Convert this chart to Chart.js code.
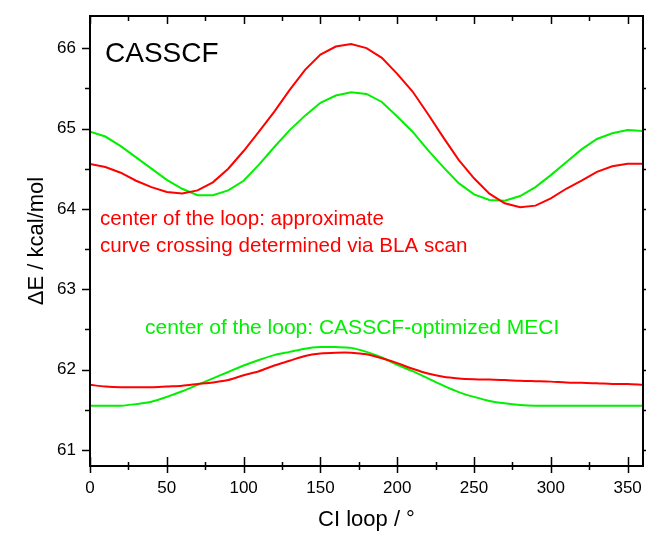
<!DOCTYPE html>
<html>
<head>
    <title>CASSCF CI loop</title>
    <script src="https://cdn.jsdelivr.net/npm/chart.js"></script>
    <style>
        body { margin: 0; background: #fff; }
        #wrap { width: 646px; height: 536px; }
    </style>
</head>
<body>
    <div id="wrap"><canvas id="loopChart"></canvas></div>

    <script>
        // CI loop angle (deg)
        const angles = [0, 10, 20, 30, 40, 50, 60, 70, 80, 90, 100, 110, 120, 130, 140, 150, 160, 170, 180,
                        190, 200, 210, 220, 230, 240, 250, 260, 270, 280, 290, 300, 310, 320, 330, 340, 350, 360];

        // center of the loop: approximate crossing via BLA scan (red)
        const redUpper = [64.56, 64.52, 64.45, 64.35, 64.27, 64.21, 64.19, 64.23, 64.33, 64.50, 64.72, 64.96, 65.21,
                          65.48, 65.73, 65.92, 66.02, 66.05, 66.00, 65.88, 65.68, 65.46, 65.18, 64.89, 64.61, 64.38,
                          64.19, 64.07, 64.02, 64.04, 64.13, 64.25, 64.35, 64.46, 64.53, 64.56, 64.56];
        const redLower = [61.81, 61.79, 61.78, 61.78, 61.78, 61.79, 61.80, 61.82, 61.84, 61.87, 61.93, 61.98, 62.05,
                          62.11, 62.17, 62.20, 62.21, 62.21, 62.19, 62.14, 62.08, 62.01, 61.95, 61.91, 61.89, 61.88,
                          61.875, 61.87, 61.86, 61.855, 61.85, 61.84, 61.835, 61.83, 61.82, 61.82, 61.81];

        // center of the loop: CASSCF-optimized MECI (green)
        const greenUpper = [64.96, 64.90, 64.78, 64.64, 64.50, 64.36, 64.25, 64.17, 64.17, 64.23, 64.35, 64.55, 64.77,
                            64.98, 65.16, 65.32, 65.41, 65.45, 65.43, 65.33, 65.15, 64.96, 64.73, 64.52, 64.32, 64.18,
                            64.11, 64.10, 64.16, 64.27, 64.42, 64.58, 64.74, 64.87, 64.94, 64.98, 64.97];
        const greenLower = [61.55, 61.55, 61.55, 61.57, 61.60, 61.66, 61.73, 61.81, 61.89, 61.97, 62.05, 62.12, 62.18,
                            62.22, 62.26, 62.28, 62.28, 62.27, 62.22, 62.15, 62.06, 61.98, 61.89, 61.80, 61.72, 61.66,
                            61.61, 61.58, 61.56, 61.55, 61.55, 61.55, 61.55, 61.55, 61.55, 61.55, 61.55];

        const xMajor = [0, 50, 100, 150, 200, 250, 300, 350];
        const xMinor = [25, 75, 125, 175, 225, 275, 325];
        const yMajor = [61, 62, 63, 64, 65, 66];
        const yMinor = [61.5, 62.5, 63.5, 64.5, 65.5];

        const FONT = "'Liberation Sans', Arial, sans-serif";
        const RED = '#ff0000';
        const GREEN = '#00f000';

        const pts = vals => vals.map((v, i) => ({ x: angles[i], y: v }));

        // frame, tick marks and the text labels inside the plot
        const frameTicks = {
            id: 'frameTicks',
            afterDraw(chart) {
                const { ctx, chartArea: a, scales: { x, y } } = chart;
                ctx.save();
                ctx.strokeStyle = '#000';
                ctx.lineWidth = 2;
                ctx.strokeRect(a.left, a.top, a.right - a.left, a.bottom - a.top);

                ctx.lineWidth = 1.5;
                ctx.beginPath();
                const xt = (v, big) => {
                    const px = Math.round(x.getPixelForValue(v)) + 0.5;
                    ctx.moveTo(px, a.bottom - (big ? 9 : 4));
                    ctx.lineTo(px, a.bottom + (big ? 7 : 4));
                    ctx.moveTo(px, a.top);
                    ctx.lineTo(px, a.top + (big ? 8 : 5));
                };
                xMajor.forEach(v => xt(v, true));
                xMinor.forEach(v => xt(v, false));
                const yt = (v, big) => {
                    const py = Math.round(y.getPixelForValue(v)) + 0.5;
                    ctx.moveTo(a.left - (big ? 8 : 5), py);
                    ctx.lineTo(a.left, py);
                    ctx.moveTo(a.right, py);
                    ctx.lineTo(a.right + 4, py);
                };
                yMajor.forEach(v => yt(v, true));
                yMinor.forEach(v => yt(v, false));
                ctx.stroke();

                ctx.textBaseline = 'alphabetic';
                ctx.textAlign = 'left';
                ctx.fillStyle = '#000';
                ctx.font = '28px ' + FONT;
                ctx.fillText('CASSCF', 105, 62);

                ctx.font = '20.6px ' + FONT;
                ctx.fillStyle = RED;
                ctx.fillText('center of the loop: approximate', 100, 225);
                ctx.fillText('curve crossing determined via BLA scan', 100, 252);
                ctx.font = '21px ' + FONT;
                ctx.fillStyle = GREEN;
                ctx.fillText('center of the loop: CASSCF-optimized MECI', 145, 334);
                ctx.restore();
            }
        };

        const line = (data, color, tension) => ({
            data: pts(data),
            borderColor: color,
            borderWidth: 2,
            pointRadius: 0,
            fill: false,
            tension: tension
        });

        const ctx = document.getElementById('loopChart').getContext('2d');
        const loopChart = new Chart(ctx, {
            type: 'line',
            data: {
                datasets: [
                    line(redUpper, RED, 0),
                    line(greenUpper, GREEN, 0),
                    line(redLower, RED, 0.3),
                    line(greenLower, GREEN, 0.3)
                ]
            },
            options: {
                responsive: true,
                maintainAspectRatio: false,
                animation: false,
                layout: { padding: { top: 16, right: 3, left: 0, bottom: 0 } },
                plugins: { legend: { display: false }, tooltip: { enabled: false } },
                scales: {
                    x: {
                        type: 'linear',
                        min: 0,
                        max: 360,
                        grid: { display: false, drawTicks: false },
                        border: { display: false },
                        ticks: {
                            stepSize: 50,
                            includeBounds: false,
                            padding: 12,
                            color: '#000',
                            font: { family: FONT, size: 17 },
                            maxRotation: 0
                        },
                        title: {
                            display: true,
                            text: 'CI loop / °',
                            color: '#000',
                            font: { family: FONT, size: 22 },
                            padding: { top: 0, bottom: 3 }
                        },
                        afterFit(scale) {
                            scale.height = 70;
                            scale.paddingLeft = 0;
                            scale.paddingRight = 0;
                        }
                    },
                    y: {
                        type: 'linear',
                        min: 60.8,
                        max: 66.4,
                        grid: { display: false, drawTicks: false },
                        border: { display: false },
                        ticks: {
                            stepSize: 1,
                            includeBounds: false,
                            padding: 14,
                            color: '#000',
                            font: { family: FONT, size: 17 }
                        },
                        title: {
                            display: true,
                            text: 'ΔE / kcal/mol',
                            color: '#000',
                            font: { family: FONT, size: 22 },
                            padding: { top: 24, bottom: 0 }
                        },
                        afterFit(scale) {
                            scale.width = 90;
                            scale.paddingTop = 0;
                            scale.paddingBottom = 0;
                        }
                    }
                }
            },
            plugins: [frameTicks]
        });
    </script>
</body>
</html>
